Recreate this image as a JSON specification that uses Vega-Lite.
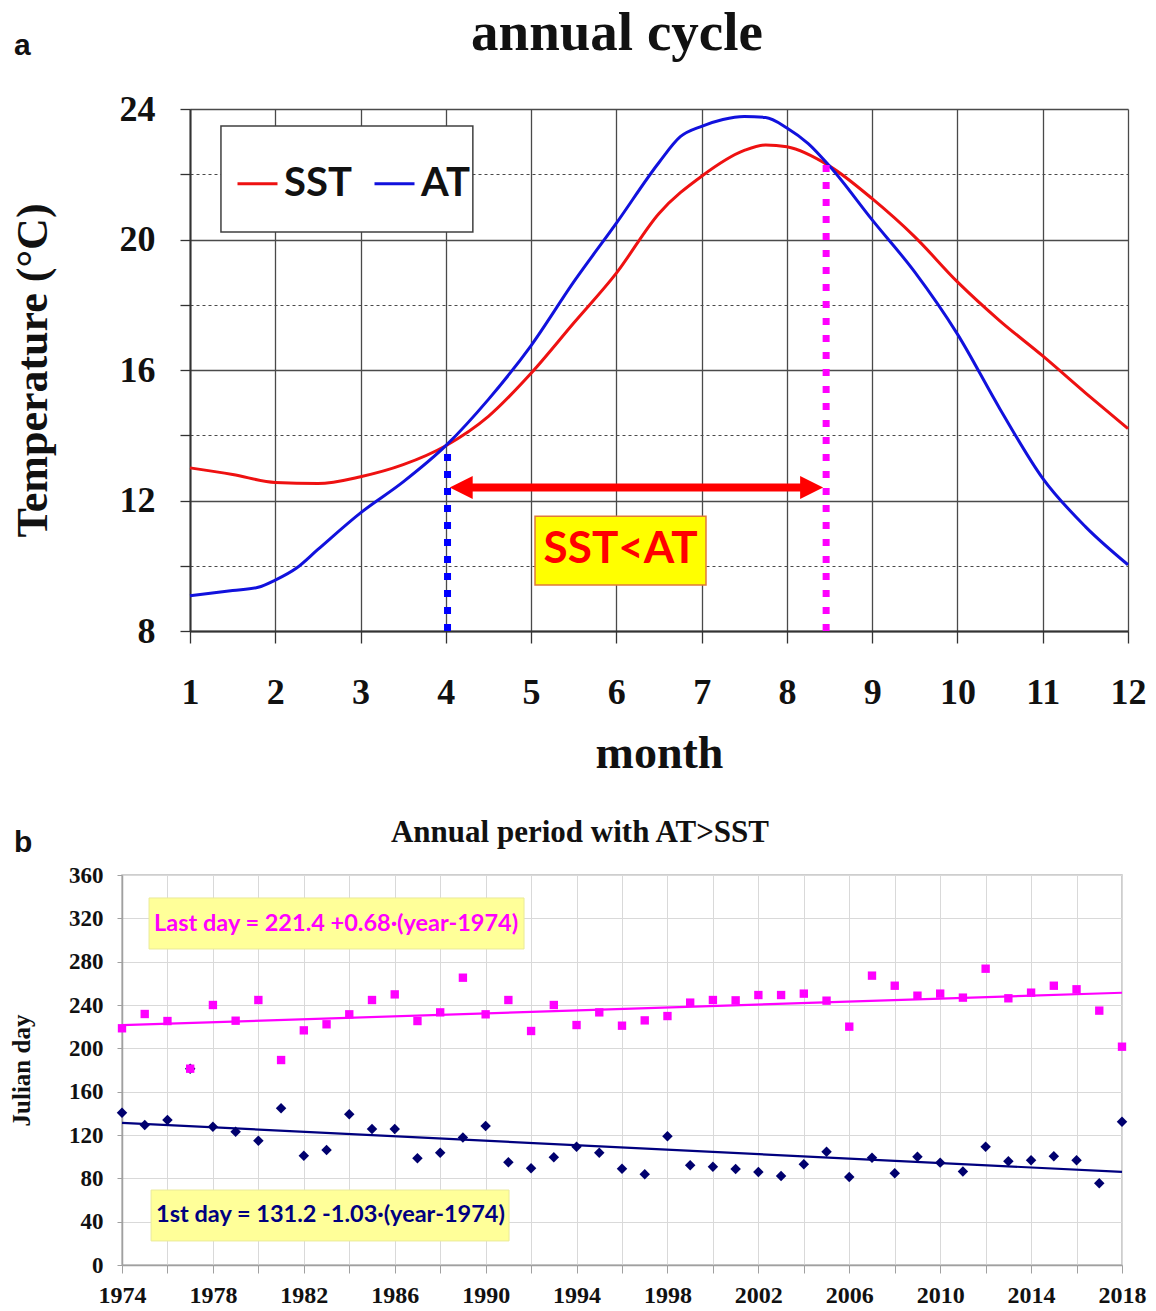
{
  "$schema": "https://vega.github.io/schema/vega-lite/v6.json",
  "background": "white",
  "padding": {"left": 8, "top": 5, "right": 5, "bottom": 0},
  "autosize": {"type": "pad"},
  "spacing": 40,
  "resolve": {"scale": {"color": "independent"}},
  "datasets": {
    "annual": [
      {"month": 1, "series": "SST", "temp": 13.0},
      {"month": 1.5, "series": "SST", "temp": 12.8},
      {"month": 2, "series": "SST", "temp": 12.55},
      {"month": 2.5, "series": "SST", "temp": 12.52},
      {"month": 3, "series": "SST", "temp": 12.73},
      {"month": 3.5, "series": "SST", "temp": 13.1},
      {"month": 4, "series": "SST", "temp": 13.68},
      {"month": 4.5, "series": "SST", "temp": 14.58},
      {"month": 5, "series": "SST", "temp": 15.9},
      {"month": 5.5, "series": "SST", "temp": 17.44},
      {"month": 6, "series": "SST", "temp": 18.97},
      {"month": 6.5, "series": "SST", "temp": 20.8},
      {"month": 7, "series": "SST", "temp": 21.94},
      {"month": 7.5, "series": "SST", "temp": 22.73},
      {"month": 7.75, "series": "SST", "temp": 22.9},
      {"month": 8, "series": "SST", "temp": 22.84},
      {"month": 8.5, "series": "SST", "temp": 22.25},
      {"month": 9, "series": "SST", "temp": 21.25},
      {"month": 9.5, "series": "SST", "temp": 20.08},
      {"month": 10, "series": "SST", "temp": 18.7},
      {"month": 10.5, "series": "SST", "temp": 17.5},
      {"month": 11, "series": "SST", "temp": 16.43},
      {"month": 11.5, "series": "SST", "temp": 15.3},
      {"month": 12, "series": "SST", "temp": 14.2},
      {"month": 1, "series": "AT", "temp": 9.08},
      {"month": 1.5, "series": "AT", "temp": 9.24},
      {"month": 1.8, "series": "AT", "temp": 9.34},
      {"month": 2, "series": "AT", "temp": 9.56},
      {"month": 2.25, "series": "AT", "temp": 9.93},
      {"month": 2.5, "series": "AT", "temp": 10.5},
      {"month": 3, "series": "AT", "temp": 11.62},
      {"month": 3.5, "series": "AT", "temp": 12.57},
      {"month": 4, "series": "AT", "temp": 13.68},
      {"month": 4.5, "series": "AT", "temp": 15.1},
      {"month": 5, "series": "AT", "temp": 16.75},
      {"month": 5.5, "series": "AT", "temp": 18.7},
      {"month": 6, "series": "AT", "temp": 20.5},
      {"month": 6.5, "series": "AT", "temp": 22.36},
      {"month": 6.75, "series": "AT", "temp": 23.15},
      {"month": 7, "series": "AT", "temp": 23.47},
      {"month": 7.25, "series": "AT", "temp": 23.68},
      {"month": 7.5, "series": "AT", "temp": 23.77},
      {"month": 7.75, "series": "AT", "temp": 23.74},
      {"month": 8, "series": "AT", "temp": 23.42},
      {"month": 8.25, "series": "AT", "temp": 22.94},
      {"month": 8.5, "series": "AT", "temp": 22.25},
      {"month": 9, "series": "AT", "temp": 20.6},
      {"month": 9.5, "series": "AT", "temp": 19.0},
      {"month": 10, "series": "AT", "temp": 17.1},
      {"month": 10.5, "series": "AT", "temp": 14.8},
      {"month": 11, "series": "AT", "temp": 12.68},
      {"month": 11.5, "series": "AT", "temp": 11.2},
      {"month": 12, "series": "AT", "temp": 10.03}
    ],
    "julian": [
      {"year": 1974, "which": "first", "day": 140.6},
      {"year": 1975, "which": "first", "day": 129.2},
      {"year": 1976, "which": "first", "day": 133.8},
      {"year": 1977, "which": "first", "day": 181.2},
      {"year": 1978, "which": "first", "day": 127.7},
      {"year": 1979, "which": "first", "day": 123.1},
      {"year": 1980, "which": "first", "day": 114.8},
      {"year": 1981, "which": "first", "day": 144.6},
      {"year": 1982, "which": "first", "day": 100.9},
      {"year": 1983, "which": "first", "day": 106.2},
      {"year": 1984, "which": "first", "day": 139.1},
      {"year": 1985, "which": "first", "day": 125.5},
      {"year": 1986, "which": "first", "day": 125.5},
      {"year": 1987, "which": "first", "day": 98.5},
      {"year": 1988, "which": "first", "day": 103.7},
      {"year": 1989, "which": "first", "day": 117.8},
      {"year": 1990, "which": "first", "day": 128.3},
      {"year": 1991, "which": "first", "day": 94.8},
      {"year": 1992, "which": "first", "day": 89.2},
      {"year": 1993, "which": "first", "day": 99.4},
      {"year": 1994, "which": "first", "day": 109.2},
      {"year": 1995, "which": "first", "day": 103.7},
      {"year": 1996, "which": "first", "day": 88.9},
      {"year": 1997, "which": "first", "day": 83.7},
      {"year": 1998, "which": "first", "day": 118.8},
      {"year": 1999, "which": "first", "day": 92.0},
      {"year": 2000, "which": "first", "day": 90.8},
      {"year": 2001, "which": "first", "day": 88.6},
      {"year": 2002, "which": "first", "day": 85.8},
      {"year": 2003, "which": "first", "day": 82.2},
      {"year": 2004, "which": "first", "day": 92.9},
      {"year": 2005, "which": "first", "day": 104.6},
      {"year": 2006, "which": "first", "day": 81.2},
      {"year": 2007, "which": "first", "day": 99.1},
      {"year": 2008, "which": "first", "day": 84.6},
      {"year": 2009, "which": "first", "day": 100.0},
      {"year": 2010, "which": "first", "day": 94.5},
      {"year": 2011, "which": "first", "day": 86.2},
      {"year": 2012, "which": "first", "day": 109.2},
      {"year": 2013, "which": "first", "day": 95.7},
      {"year": 2014, "which": "first", "day": 96.6},
      {"year": 2015, "which": "first", "day": 100.3},
      {"year": 2016, "which": "first", "day": 96.6},
      {"year": 2017, "which": "first", "day": 75.4},
      {"year": 2018, "which": "first", "day": 132.3},
      {"year": 1974, "which": "last", "day": 218.5},
      {"year": 1975, "which": "last", "day": 231.7},
      {"year": 1976, "which": "last", "day": 225.2},
      {"year": 1977, "which": "last", "day": 181.2},
      {"year": 1978, "which": "last", "day": 240.0},
      {"year": 1979, "which": "last", "day": 225.5},
      {"year": 1980, "which": "last", "day": 244.6},
      {"year": 1981, "which": "last", "day": 189.2},
      {"year": 1982, "which": "last", "day": 216.6},
      {"year": 1983, "which": "last", "day": 222.2},
      {"year": 1984, "which": "last", "day": 231.4},
      {"year": 1985, "which": "last", "day": 244.6},
      {"year": 1986, "which": "last", "day": 249.8},
      {"year": 1987, "which": "last", "day": 225.2},
      {"year": 1988, "which": "last", "day": 233.2},
      {"year": 1989, "which": "last", "day": 265.2},
      {"year": 1990, "which": "last", "day": 231.4},
      {"year": 1991, "which": "last", "day": 244.6},
      {"year": 1992, "which": "last", "day": 216.0},
      {"year": 1993, "which": "last", "day": 240.0},
      {"year": 1994, "which": "last", "day": 221.5},
      {"year": 1995, "which": "last", "day": 233.2},
      {"year": 1996, "which": "last", "day": 220.9},
      {"year": 1997, "which": "last", "day": 225.8},
      {"year": 1998, "which": "last", "day": 229.8},
      {"year": 1999, "which": "last", "day": 242.2},
      {"year": 2000, "which": "last", "day": 244.6},
      {"year": 2001, "which": "last", "day": 244.3},
      {"year": 2002, "which": "last", "day": 249.2},
      {"year": 2003, "which": "last", "day": 249.2},
      {"year": 2004, "which": "last", "day": 250.5},
      {"year": 2005, "which": "last", "day": 244.0},
      {"year": 2006, "which": "last", "day": 220.0},
      {"year": 2007, "which": "last", "day": 267.1},
      {"year": 2008, "which": "last", "day": 257.8},
      {"year": 2009, "which": "last", "day": 248.6},
      {"year": 2010, "which": "last", "day": 250.5},
      {"year": 2011, "which": "last", "day": 246.8},
      {"year": 2012, "which": "last", "day": 273.5},
      {"year": 2013, "which": "last", "day": 246.2},
      {"year": 2014, "which": "last", "day": 251.4},
      {"year": 2015, "which": "last", "day": 257.8},
      {"year": 2016, "which": "last", "day": 254.5},
      {"year": 2017, "which": "last", "day": 234.8},
      {"year": 2018, "which": "last", "day": 201.5}
    ],
    "trend": [
      {"year": 1974, "which": "first", "day": 131.2},
      {"year": 2018, "which": "first", "day": 85.9},
      {"year": 1974, "which": "last", "day": 221.4},
      {"year": 2018, "which": "last", "day": 251.3}
    ]
  },
  "config": {
    "view": {"stroke": null},
    "axis": {"labelFont": "Liberation Serif", "labelFontWeight": "bold", "titleFont": "Liberation Serif", "titleFontWeight": "bold", "labelColor": "#111111", "titleColor": "#111111"},
    "title": {"font": "Liberation Serif", "fontWeight": "bold", "color": "#111111"}
  },
  "vconcat": [
    {
      "width": 1006,
      "height": 522,
      "title": {"text": "annual cycle", "fontSize": 55, "anchor": "middle", "dx": -8, "offset": -31},
      "layer": [
        {
          "data": {"values": [{}]},
          "mark": {"type": "rect", "fill": "#ffffff", "stroke": "#404040", "strokeWidth": 1.5},
          "encoding": {"x": {"datum": 1.363}, "x2": {"datum": 4.317}, "y": {"datum": 20.23}, "y2": {"datum": 23.48}}
        },
        {
          "data": {"values": [{}]},
          "mark": {"type": "rect", "fill": "#ffff00", "stroke": "#e07b39", "strokeWidth": 1.5},
          "encoding": {"x": {"datum": 5.046}, "x2": {"datum": 7.051}, "y": {"datum": 9.41}, "y2": {"datum": 11.52}}
        },
        {
          "data": {"values": [{}]},
          "mark": {"type": "text", "text": "SST<AT", "font": "Lato", "fontWeight": "bold", "fontSize": 44, "color": "#ff0000", "align": "center", "baseline": "middle"},
          "encoding": {"x": {"datum": 6.05}, "y": {"datum": 10.47}}
        },
        {
          "data": {"name": "annual"},
          "mark": {"type": "line", "strokeWidth": 3, "interpolate": "monotone"},
          "encoding": {
            "x": {
              "field": "month", "type": "quantitative", "title": "month",
              "scale": {"domain": [1, 12], "range": [68, 1006], "nice": false, "zero": false},
              "axis": {
                "values": [1, 2, 3, 4, 5, 6, 7, 8, 9, 10, 11, 12],
                "format": "d",
                "grid": true, "gridColor": "#4a4a4a", "gridWidth": 1.3,
                "domainColor": "#333333", "domainWidth": 2,
                "tickColor": "#333333", "tickSize": 12, "tickWidth": 1.3,
                "labelFontSize": 36, "labelPadding": 32, "labelFlush": false, "labelOverlap": false,
                "title": "month", "titleFontSize": 46, "titlePadding": 21
              }
            },
            "y": {
              "field": "temp", "type": "quantitative", "title": "Temperature (°C)",
              "scale": {"domain": [8, 24], "nice": false, "zero": false},
              "axis": {
                "values": [8, 9, 10, 11, 12, 13, 14, 15, 16, 17, 18, 19, 20, 21, 22, 23, 24],
                "format": "d",
                "offset": -68,
                "grid": true,
                "gridColor": "#4a4a4a",
                "gridWidth": {"condition": {"test": "datum.value % 4 === 0", "value": 1.3}, "value": 1},
                "gridDash": {"condition": {"test": "datum.value % 4 === 0", "value": []}, "value": [3, 3]},
                "domainColor": "#333333", "domainWidth": 2,
                "tickColor": "#333333", "tickSize": 10, "tickWidth": 1.3,
                "labelExpr": "datum.value % 4 === 0 ? datum.label : ''",
                "labelFontSize": 36, "labelPadding": 25, "labelOverlap": false,
                "title": "Temperature (°C)", "titleFontSize": 44, "titlePadding": 64
              }
            },
            "color": {
              "field": "series", "type": "nominal",
              "scale": {"domain": ["SST", "AT"], "range": ["#ee1111", "#1111dd"]},
              "legend": {
                "orient": "none", "legendX": 114, "legendY": 53, "direction": "horizontal",
                "title": null, "symbolType": "stroke", "symbolSize": 1600, "symbolStrokeWidth": 3,
                "labelFont": "Lato", "labelFontWeight": "bold", "labelFontSize": 40, "labelColor": "#111111",
                "labelOffset": 5, "columnPadding": 16, "padding": 0
              }
            }
          }
        },
        {
          "data": {"values": [{}]},
          "mark": {"type": "rule", "color": "#0000ff", "strokeWidth": 7, "strokeDash": [7, 10]},
          "encoding": {"x": {"datum": 4.02}, "y": {"datum": 8}, "y2": {"datum": 13.68}}
        },
        {
          "data": {"values": [{}]},
          "mark": {"type": "rule", "color": "#ff00ff", "strokeWidth": 7, "strokeDash": [7, 10]},
          "encoding": {"x": {"datum": 8.46}, "y": {"datum": 8}, "y2": {"datum": 22.3}}
        },
        {
          "data": {"values": [{}]},
          "mark": {"type": "rule", "color": "#ff0000", "strokeWidth": 8},
          "encoding": {"x": {"datum": 4.2}, "x2": {"datum": 8.3}, "y": {"datum": 12.4}}
        },
        {
          "data": {"values": [{}]},
          "mark": {"type": "point", "shape": "M-1,0L1,-1L1,1Z", "filled": true, "opacity": 1, "color": "#ff0000", "size": 529},
          "encoding": {"x": {"datum": 4.18}, "y": {"datum": 12.4}}
        },
        {
          "data": {"values": [{}]},
          "mark": {"type": "point", "shape": "M1,0L-1,-1L-1,1Z", "filled": true, "opacity": 1, "color": "#ff0000", "size": 529},
          "encoding": {"x": {"datum": 8.29}, "y": {"datum": 12.4}}
        },
        {
          "data": {"values": [{}]},
          "mark": {"type": "text", "text": "a", "font": "Liberation Sans", "fontWeight": "bold", "fontSize": 30, "color": "#111111", "align": "left", "baseline": "alphabetic"},
          "encoding": {"x": {"datum": -1.064}, "y": {"datum": 25.66}}
        }
      ]
    },
    {
      "width": 1000,
      "height": 390,
      "view": {"stroke": "#bfbfbf", "strokeWidth": 1.5},
      "title": {"text": "Annual period with AT>SST", "fontSize": 31, "anchor": "middle", "dx": -42, "offset": -21},
      "layer": [
        {
          "data": {"values": [{}]},
          "mark": {"type": "rect", "fill": "#ffff99", "stroke": "#eaea9a", "strokeWidth": 1},
          "encoding": {"x": {"datum": 1975.19}, "x2": {"datum": 1991.69}, "y": {"datum": 291.7}, "y2": {"datum": 338.8}}
        },
        {
          "data": {"values": [{}]},
          "mark": {"type": "text", "text": "Last day = 221.4 +0.68·(year-1974)", "font": "Lato", "fontWeight": "bold", "fontSize": 23.5, "color": "#ff00ff", "align": "left", "baseline": "middle"},
          "encoding": {"x": {"datum": 1975.41}, "y": {"datum": 315.2}}
        },
        {
          "data": {"values": [{}]},
          "mark": {"type": "rect", "fill": "#ffff99", "stroke": "#eaea9a", "strokeWidth": 1},
          "encoding": {"x": {"datum": 1975.28}, "x2": {"datum": 1991.03}, "y": {"datum": 22.2}, "y2": {"datum": 69.2}}
        },
        {
          "data": {"values": [{}]},
          "mark": {"type": "text", "text": "1st day = 131.2 -1.03·(year-1974)", "font": "Lato", "fontWeight": "bold", "fontSize": 23.5, "color": "#000080", "align": "left", "baseline": "middle"},
          "encoding": {"x": {"datum": 1975.5}, "y": {"datum": 45.7}}
        },
        {
          "data": {"name": "trend"},
          "mark": {"type": "line", "strokeWidth": 2.2},
          "encoding": {
            "x": {
              "field": "year", "type": "quantitative", "title": null,
              "scale": {"domain": [1974, 2018], "nice": false, "zero": false},
              "axis": {
                "values": [1974, 1975, 1976, 1977, 1978, 1979, 1980, 1981, 1982, 1983, 1984, 1985, 1986, 1987, 1988, 1989, 1990, 1991, 1992, 1993, 1994, 1995, 1996, 1997, 1998, 1999, 2000, 2001, 2002, 2003, 2004, 2005, 2006, 2007, 2008, 2009, 2010, 2011, 2012, 2013, 2014, 2015, 2016, 2017, 2018],
                "format": "d",
                "grid": true, "gridColor": "#d9d9d9", "gridWidth": 1,
                "domainColor": "#a0a0a0", "domainWidth": 1.5,
                "tickColor": "#a0a0a0", "tickSize": 8,
                "labelExpr": "(datum.value - 1974) % 4 === 0 ? datum.label : ''",
                "labelFontSize": 24, "labelPadding": 10, "labelFlush": false, "labelOverlap": false,
                "title": null
              }
            },
            "y": {
              "field": "day", "type": "quantitative", "title": "Julian day",
              "scale": {"domain": [0, 360], "nice": false, "zero": true},
              "axis": {
                "values": [0, 10, 20, 30, 40, 50, 60, 70, 80, 90, 100, 110, 120, 130, 140, 150, 160, 170, 180, 190, 200, 210, 220, 230, 240, 250, 260, 270, 280, 290, 300, 310, 320, 330, 340, 350, 360],
                "format": "d",
                "grid": true, "gridColor": "#d9d9d9",
                "gridOpacity": {"condition": {"test": "datum.value % 40 === 0", "value": 1}, "value": 0},
                "domainColor": "#a0a0a0", "domainWidth": 1.5,
                "tickColor": "#a0a0a0", "tickSize": 5,
                "labelExpr": "datum.value % 40 === 0 ? datum.label : ''",
                "labelFontSize": 23, "labelPadding": 14, "labelOverlap": false,
                "title": "Julian day", "titleFontSize": 25, "titlePadding": 34
              }
            },
            "color": {"field": "which", "type": "nominal", "scale": {"domain": ["first", "last"], "range": ["#00007f", "#ff00ff"]}, "legend": null}
          }
        },
        {
          "data": {"name": "julian"},
          "transform": [{"filter": "datum.which === 'first'"}],
          "mark": {"type": "point", "shape": "diamond", "filled": true, "opacity": 1, "color": "#00006e", "size": 110},
          "encoding": {
            "x": {"field": "year", "type": "quantitative", "title": null},
            "y": {"field": "day", "type": "quantitative", "title": "Julian day"}
          }
        },
        {
          "data": {"name": "julian"},
          "transform": [{"filter": "datum.which === 'last'"}],
          "mark": {"type": "point", "shape": "square", "filled": true, "opacity": 1, "color": "#ff00ff", "size": 70},
          "encoding": {
            "x": {"field": "year", "type": "quantitative", "title": null},
            "y": {"field": "day", "type": "quantitative", "title": "Julian day"}
          }
        },
        {
          "data": {"values": [{}]},
          "mark": {"type": "text", "text": "b", "font": "Liberation Sans", "fontWeight": "bold", "fontSize": 30, "color": "#111111", "align": "left", "baseline": "alphabetic"},
          "encoding": {"x": {"datum": 1969.25}, "y": {"datum": 381}}
        }
      ]
    }
  ]
}
